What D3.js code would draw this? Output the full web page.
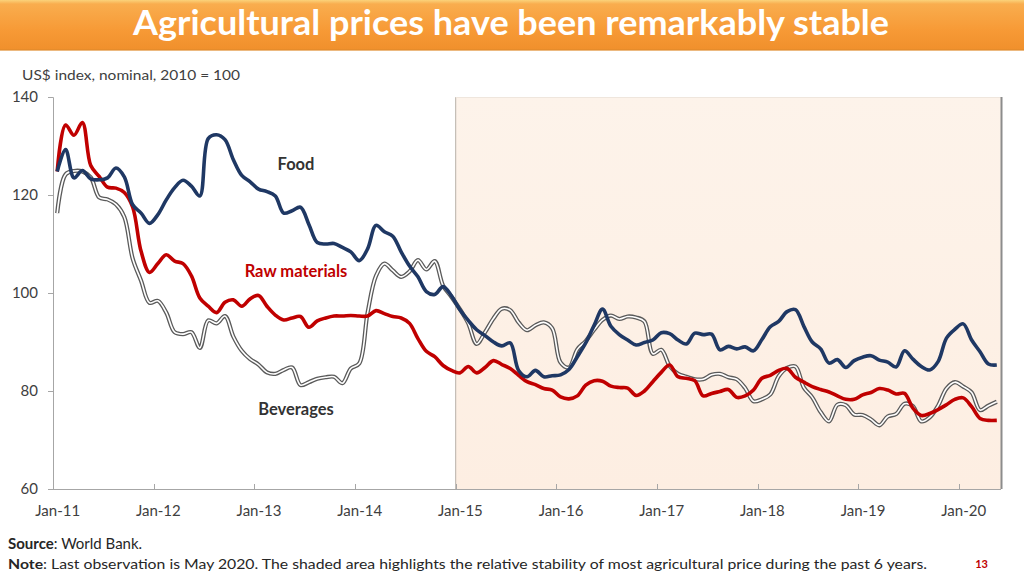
<!DOCTYPE html>
<html>
<head>
<meta charset="utf-8">
<script src="https://cdn.jsdelivr.net/npm/d3@7"></script>
<style>
  html, body { margin: 0; padding: 0; background: #ffffff; }
  svg { display: block; }
  text { font-family: Lato, "Open Sans", "Liberation Sans", sans-serif; }
</style>
</head>
<body>
<svg id="chart" width="1024" height="576"></svg>
<script>
// ---------- DATA (monthly, Jan-2011 .. May-2020) ----------
const nMonths = 113;

const tickLabels = ["Jan-11","Jan-12","Jan-13","Jan-14","Jan-15","Jan-16","Jan-17","Jan-18","Jan-19","Jan-20"];
const yTicks = [60, 80, 100, 120, 140];

const food = [
  124.8,129.3,123.5,125.0,123.3,123.1,123.5,125.5,123.7,118.0,116.3,114.2,
  116.0,119.0,121.5,123.0,121.8,119.8,131.5,132.3,131.3,127.2,124.0,122.7,
  121.2,120.7,119.8,116.3,116.8,117.5,114.0,110.3,110.0,110.1,109.3,108.4,
  106.6,109.0,113.8,112.5,111.6,108.4,105.5,103.3,100.3,99.7,101.3,99.4,
  96.6,94.4,92.5,91.3,90.0,89.2,89.8,84.2,82.9,84.2,82.9,83.1,
  83.3,84.4,87.0,89.8,93.4,96.7,93.2,91.5,90.4,89.4,89.9,90.4,
  91.9,91.7,90.4,89.6,91.8,91.5,91.6,88.4,89.1,88.6,89.0,88.2,
  90.5,93.1,94.2,96.2,96.6,93.2,90.0,88.6,85.7,86.4,84.8,86.2,
  86.9,87.2,86.3,85.9,84.9,88.2,86.5,85.0,84.3,86.0,90.8,92.6,
  93.7,90.4,88.0,85.5,85.3
];

const rawMaterials = [
  124.8,134.3,132.2,134.8,126.0,123.8,121.6,121.4,120.5,117.5,108.5,104.2,
  106.0,107.8,106.5,106.0,103.5,99.0,97.3,96.0,98.1,98.6,97.3,98.8,
  99.5,97.3,95.5,94.5,94.9,95.2,93.0,94.3,94.9,95.3,95.3,95.4,
  95.3,95.3,96.4,95.8,95.2,94.9,93.8,90.7,88.1,87.0,85.2,84.2,
  83.7,85.0,83.7,84.8,86.2,85.4,84.6,83.2,81.9,81.3,80.5,80.2,
  78.8,78.4,79.0,81.2,82.1,82.0,81.0,80.7,80.6,79.1,80.0,81.9,
  83.8,85.3,82.9,82.6,82.1,79.0,79.5,79.9,80.3,78.7,79.0,80.2,
  82.6,83.2,84.2,84.6,82.8,81.8,80.9,80.3,79.8,79.0,78.3,78.3,
  79.2,79.7,80.5,80.2,79.4,79.5,76.5,75.0,75.4,76.2,77.2,78.3,
  78.6,76.8,74.4,74.0,74.0
];

const beverages = [
  116.3,124.2,124.9,124.8,123.6,119.5,119.1,118.1,115.5,107.0,102.5,98.0,
  98.4,96.0,92.0,91.6,92.0,88.8,94.4,93.8,95.3,91.1,88.2,86.5,
  85.4,83.8,83.5,84.3,84.8,81.2,81.8,82.5,82.8,82.9,81.6,84.6,
  85.6,96.0,103.5,106.0,104.6,103.3,104.4,106.7,104.8,106.5,101.5,99.2,
  96.7,93.8,89.6,92.0,94.8,96.8,96.5,94.0,92.4,93.4,94.0,92.8,
  85.8,84.8,88.5,90.2,92.5,94.5,95.4,94.7,95.2,95.0,94.2,87.6,
  88.4,85.1,83.5,82.9,82.4,82.4,83.3,83.5,82.8,82.4,80.6,77.9,
  78.3,79.3,83.0,84.7,85.0,80.7,78.7,75.7,73.8,77.2,77.1,75.2,
  75.1,74.2,73.0,74.8,75.3,77.4,76.9,73.8,74.6,77.0,80.5,81.8,
  80.9,79.7,76.1,77.0,77.8
];

const seriesLabels = ["Food", "Raw materials", "Beverages"];
const shadeStartIndex = 48; // Jan-15

// ---------- DRAW ----------
const svg = d3.select("#chart");
const W = 1024, H = 576;
const plot = { left: 53, right: 1001, top: 97, bottom: 489 };

const x = d3.scaleLinear().domain([-0.5, nMonths - 0.5]).range([plot.left, plot.right]);
const y = d3.scaleLinear().domain([60, 140]).range([plot.bottom, plot.top]);

const defs = svg.append("defs");
const tg = defs.append("linearGradient").attr("id", "titleGrad").attr("x1", 0).attr("y1", 0).attr("x2", 0).attr("y2", 1);
tg.append("stop").attr("offset", "0%").attr("stop-color", "#fbd27a");
tg.append("stop").attr("offset", "8%").attr("stop-color", "#f9ad4e");
tg.append("stop").attr("offset", "60%").attr("stop-color", "#f79a36");
tg.append("stop").attr("offset", "100%").attr("stop-color", "#f0902c");

const sg = defs.append("linearGradient").attr("id", "shadeGrad").attr("x1", 0).attr("y1", 0).attr("x2", 0).attr("y2", 1);
sg.append("stop").attr("offset", "0%").attr("stop-color", "#fdf3ea");
sg.append("stop").attr("offset", "100%").attr("stop-color", "#fdeee2");

// Title bar
svg.append("rect").attr("x", 0).attr("y", 0).attr("width", W).attr("height", 50).attr("fill", "url(#titleGrad)");
svg.append("rect").attr("x", 0).attr("y", 49).attr("width", W).attr("height", 2).attr("fill", "#e08a2c").attr("opacity", 0.6);
svg.append("text")
  .attr("x", 511).attr("y", 35)
  .attr("text-anchor", "middle")
  .attr("fill", "#ffffff")
  .attr("font-weight", "bold")
  .attr("font-size", 35)
  .attr("textLength", 756).attr("lengthAdjust", "spacingAndGlyphs")
  .text("Agricultural prices have been remarkably stable");

// Axis subtitle
svg.append("text")
  .attr("x", 22).attr("y", 80)
  .attr("fill", "#404040").attr("font-size", 14)
  .attr("textLength", 218).attr("lengthAdjust", "spacingAndGlyphs")
  .text("US$ index, nominal, 2010 = 100");

// Shaded area
const sx0 = x(shadeStartIndex - 0.5);
svg.append("rect")
  .attr("x", sx0).attr("y", plot.top)
  .attr("width", plot.right - sx0).attr("height", plot.bottom - plot.top)
  .attr("fill", "url(#shadeGrad)");
svg.append("line").attr("x1", sx0).attr("x2", sx0).attr("y1", plot.top).attr("y2", plot.bottom)
  .attr("stroke", "#b8b0a8").attr("stroke-width", 1);
svg.append("line").attr("x1", sx0).attr("x2", plot.right).attr("y1", plot.top + 0.5).attr("y2", plot.top + 0.5)
  .attr("stroke", "#efe6dd").attr("stroke-width", 1);
svg.append("line").attr("x1", plot.right + 0.5).attr("x2", plot.right + 0.5).attr("y1", plot.top).attr("y2", plot.bottom)
  .attr("stroke", "#8c8c8c").attr("stroke-width", 2);

// Y axis
const yAxis = d3.axisLeft(y).tickValues(yTicks).tickSize(5).tickPadding(3);
const gy = svg.append("g").attr("transform", `translate(${plot.left},0)`).call(yAxis);
gy.select(".domain").attr("stroke", "#a6a6a6");
gy.selectAll(".tick line").attr("stroke", "#a6a6a6");
gy.selectAll(".tick text").attr("fill", "#404040").attr("font-size", 15)
  .attr("font-family", "Lato, 'Open Sans', sans-serif").attr("x", -15);

// X axis: tick marks at year boundaries (inside), labels at Jan centres
const boundaryTicks = d3.range(0, nMonths, 12).map(i => i - 0.5);
const gx = svg.append("g").attr("transform", `translate(0,${plot.bottom})`);
gx.append("line").attr("x1", plot.left).attr("x2", plot.right).attr("y1", 0.5).attr("y2", 0.5)
  .attr("stroke", "#a6a6a6");
gx.selectAll("line.tk").data(boundaryTicks.slice(1)).join("line").attr("class", "tk")
  .attr("x1", d => Math.round(x(d)) + 0.5).attr("x2", d => Math.round(x(d)) + 0.5)
  .attr("y1", 0).attr("y2", -5).attr("stroke", "#a6a6a6");
gx.selectAll("text.lbl").data(tickLabels).join("text").attr("class", "lbl")
  .attr("x", (d, i) => x(i * 12) + 0.5).attr("y", 27)
  .attr("text-anchor", "middle").attr("fill", "#404040").attr("font-size", 15)
  .text(d => d);

// Lines
const line = d3.line().x((d, i) => x(i)).y(d => y(d)).curve(d3.curveCatmullRom.alpha(0.5));

svg.append("path").datum(beverages).attr("d", line)
  .attr("fill", "none").attr("stroke", "#5a5a5a").attr("stroke-width", 4.2).attr("stroke-linejoin", "round");
svg.append("path").datum(beverages).attr("d", line)
  .attr("fill", "none").attr("stroke", "#ffffff").attr("stroke-width", 1.6).attr("stroke-linejoin", "round");

svg.append("path").datum(rawMaterials).attr("d", line)
  .attr("fill", "none").attr("stroke", "#c00000").attr("stroke-width", 3.6).attr("stroke-linejoin", "round");

svg.append("path").datum(food).attr("d", line)
  .attr("fill", "none").attr("stroke", "#1f3864").attr("stroke-width", 3.6).attr("stroke-linejoin", "round");

// Series labels
const lblPos = [
  { x: 296, y: 170, color: "#333333" },
  { x: 296, y: 277, color: "#c00000" },
  { x: 296, y: 415, color: "#333333" }
];
seriesLabels.forEach((s, i) => {
  svg.append("text").attr("x", lblPos[i].x).attr("y", lblPos[i].y)
    .attr("text-anchor", "middle").attr("font-weight", "bold").attr("font-size", 16.5)
    .attr("fill", lblPos[i].color).text(s);
});

// Footnotes
const src = svg.append("text").attr("x", 8).attr("y", 549).attr("font-size", 15).attr("fill", "#262626");
src.append("tspan").attr("font-weight", "bold").text("Source");
src.append("tspan").text(": World Bank.");

const note = svg.append("text").attr("x", 8).attr("y", 569).attr("font-size", 14).attr("fill", "#262626")
  .attr("textLength", 919).attr("lengthAdjust", "spacingAndGlyphs");
note.append("tspan").attr("font-weight", "bold").text("Note");
note.append("tspan").text(": Last observation is May 2020. The shaded area highlights the relative stability of most agricultural price during the past 6 years.");

svg.append("text").attr("x", 988).attr("y", 568).attr("text-anchor", "end")
  .attr("font-size", 11).attr("font-weight", "bold").attr("fill", "#c00000").text("13");
</script>
</body>
</html>
